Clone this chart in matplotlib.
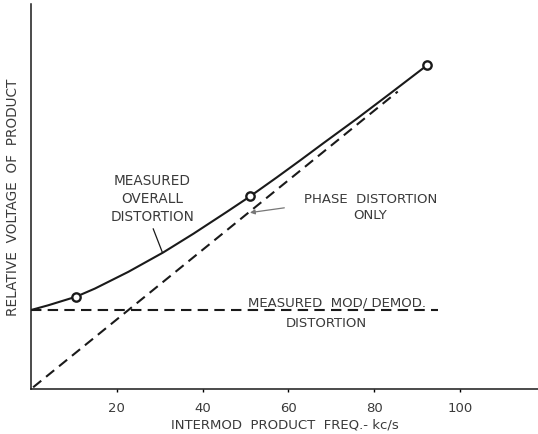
import matplotlib.pyplot as plt

# measured overall distortion
overall_x = [0, 4.0, 10.5, 14.9, 22.7, 30.8, 37.9, 45.7, 51.1, 57.3, 62.8,
             68.2, 76.0, 83.8, 92.3]
overall_y = [18.4, 19.5, 21.5, 23.4, 27.3, 31.8, 36.2, 41.3, 44.9, 49.3, 53.3,
             57.3, 63.0, 68.9, 75.4]
# the circled measurement points
meas_x = [10.5, 51.1, 92.3]
meas_y = [21.5, 44.9, 75.4]
# phase distortion only (straight through origin)
phase_x = [0.5, 85.5]
phase_y = [0.4, 69.3]
# measured mod/demod distortion (flat)
moddem_x = [0, 94.9]
moddem_y = [18.4, 18.4]

xticks = [20, 40, 60, 80, 100]

ink = '#1a1a1a'
txt = '#3a3a3a'

fig = plt.figure(figsize=(5.38, 4.35), dpi=100)
ax = fig.add_axes([31 / 538, 45 / 435, 507 / 538, 385 / 435])

ax.plot(overall_x, overall_y, '-', color=ink, lw=1.5, zorder=3)
ax.plot(meas_x, meas_y, 'o', ms=6, mfc='white', mec=ink, mew=1.7, zorder=4)
ax.plot(phase_x, phase_y, '--', color=ink, lw=1.5, dashes=(5, 3))
ax.plot(moddem_x, moddem_y, '--', color=ink, lw=1.5, dashes=(5, 3))

ax.set_xlim(0, 118.2)
ax.set_ylim(0, 89.7)
ax.set_xticks(xticks)
ax.set_yticks([])
ax.tick_params(axis='x', length=2, width=1, pad=7, labelsize=9.5, labelcolor=txt)
for s in ['top', 'right']:
    ax.spines[s].set_visible(False)
for s in ['left', 'bottom']:
    ax.spines[s].set_linewidth(1.1)
    ax.spines[s].set_color(ink)

ax.set_xlabel('INTERMOD  PRODUCT  FREQ.- kc/s', fontsize=9.5, color=txt, labelpad=2)
ax.set_ylabel('RELATIVE  VOLTAGE  OF  PRODUCT', fontsize=9.8, color=txt, labelpad=8)

ax.text(28.3, 44.5, 'MEASURED\nOVERALL\nDISTORTION', ha='center', va='center',
        fontsize=9.8, color=txt, linespacing=1.35)
ax.plot([28.5, 30.6], [37.3, 31.9], color=ink, lw=0.9)

ax.text(79.1, 42.5, 'PHASE  DISTORTION\nONLY', ha='center', va='center',
        fontsize=9.5, color=txt, linespacing=1.35)
ax.annotate('', xy=(50.4, 41.0), xytext=(59.7, 42.3),
            arrowprops=dict(arrowstyle='-|>', color='#777777', lw=0.9,
                            mutation_scale=7))

ax.text(71.4, 20.3, 'MEASURED  MOD/ DEMOD.', ha='center', va='center',
        fontsize=9.5, color=txt)
ax.text(68.8, 15.6, 'DISTORTION', ha='center', va='center',
        fontsize=9.5, color=txt)

fig.savefig('out.png', dpi=100)
